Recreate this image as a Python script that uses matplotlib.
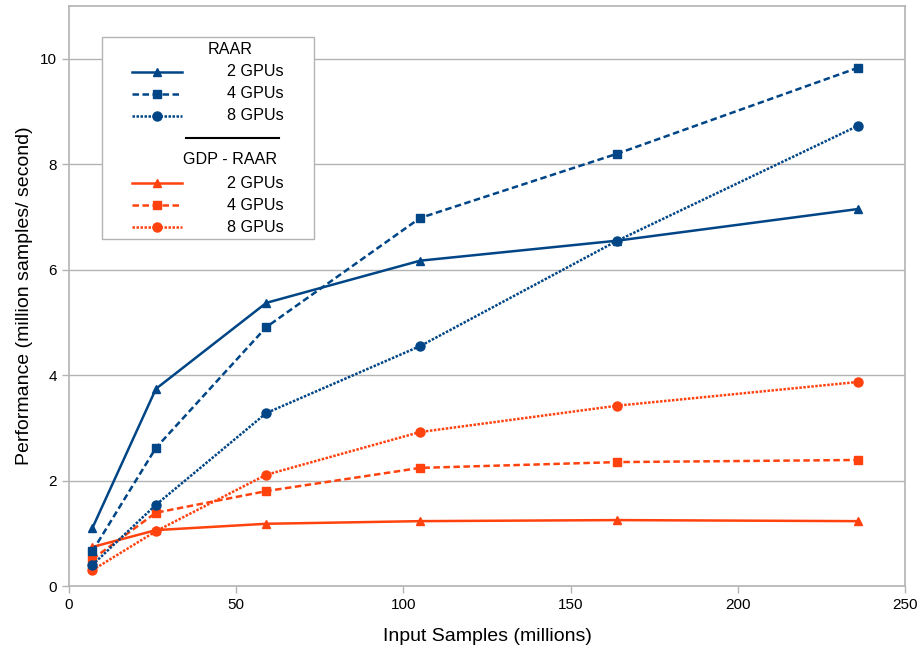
import matplotlib
matplotlib.use('Agg')
import matplotlib.pyplot as plt
from matplotlib.lines import Line2D
from matplotlib.patches import Rectangle

plt.rcParams['font.family'] = ['Liberation Sans', 'DejaVu Sans']

# input sizes (millions of samples)
samples = [7, 26, 59, 105, 164, 236]

raar_2 = [1.10, 3.74, 5.37, 6.17, 6.55, 7.15]
raar_4 = [0.66, 2.62, 4.91, 6.98, 8.20, 9.83]
raar_8 = [0.40, 1.54, 3.28, 4.55, 6.55, 8.73]

gdp_2 = [0.74, 1.06, 1.18, 1.23, 1.25, 1.23]
gdp_4 = [0.51, 1.39, 1.80, 2.24, 2.35, 2.39]
gdp_8 = [0.30, 1.04, 2.11, 2.92, 3.42, 3.87]

gpu_labels = ['2 GPUs', '4 GPUs', '8 GPUs']
group_titles = ['RAAR', 'GDP - RAAR']

BLUE = '#004586'
ORANGE = '#ff420e'
GRID = '#b3b3b3'

styles = [('-', '^', 6), ((0, (2.6, 1.4)), 's', 6), ((0, (1, 0.6)), 'o', 6.5)]

fig = plt.figure(figsize=(9.22, 6.49), dpi=100)
ax = fig.add_axes([69/922, 1 - 586/649, (905-69)/922, (586-6)/649])

for color, series in [(ORANGE, [gdp_2, gdp_4, gdp_8]), (BLUE, [raar_2, raar_4, raar_8])]:
    for ys, (ls, mk, ms) in zip(series, styles):
        ax.plot(samples, ys, color=color, linestyle=ls, linewidth=1.8,
                marker=mk, markersize=ms, zorder=3)

ax.set_xlim(0, 250)
ax.set_ylim(0, 11)
ax.set_xticks(range(0, 251, 50))
ax.set_yticks(range(0, 11, 2))
ax.grid(axis='y', color=GRID, linewidth=1)
ax.set_axisbelow(True)
for sp in ax.spines.values():
    sp.set_color(GRID)
    sp.set_linewidth(1.2)
ax.tick_params(colors=GRID, labelcolor='black', labelsize=11, length=5, width=1)

ax.set_xlabel('Input Samples (millions)', fontsize=14, labelpad=12)
ax.set_ylabel('Performance (million samples/ second)', fontsize=14, labelpad=5)

# hand-built legend with two groups and a separator
def fx(px):
    return (px - 69) / (905 - 69)

def fy(py):
    return (586 - py) / (586 - 6)

tr = ax.transAxes
ax.add_patch(Rectangle((fx(102), fy(239)), fx(314) - fx(102), fy(37) - fy(239),
                       transform=tr, facecolor='white', edgecolor=GRID,
                       linewidth=1, zorder=5))

rows = [[72, 94, 116], [183, 205, 227]]
titles_y = [49, 160]
for color, title, ty, rys in zip([BLUE, ORANGE], group_titles, titles_y, rows):
    ax.text(fx(230), fy(ty), title, transform=tr, ha='center', va='center',
            fontsize=11.6, zorder=6)
    for lab, ry, (ls, mk, ms) in zip(gpu_labels, rys, styles):
        ax.add_line(Line2D([fx(132), fx(182)], [fy(ry), fy(ry)], transform=tr,
                           color=color, linestyle=ls, linewidth=1.8, zorder=6))
        ax.add_line(Line2D([fx(157)], [fy(ry)], transform=tr, color=color,
                           marker=mk, markersize=ms, zorder=6))
        ax.text(fx(284), fy(ry), lab, transform=tr, ha='right', va='center',
                fontsize=11.6, zorder=6)

ax.add_line(Line2D([fx(186), fx(279)], [fy(138), fy(138)], transform=tr,
                   color='black', linewidth=1.5, zorder=6))

fig.savefig('out.png', dpi=100)
